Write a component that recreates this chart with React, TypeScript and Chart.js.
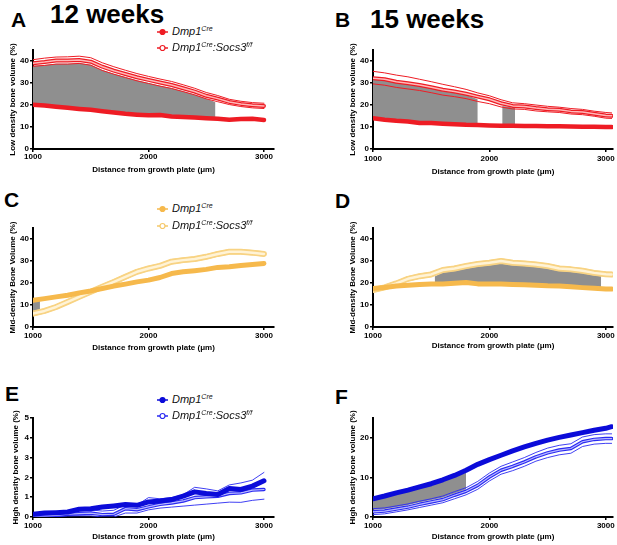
import React, { useEffect, useRef } from "react";
import { Chart, registerables } from "chart.js";
Chart.register(...registerables);

const FONT = 'Arial, "Liberation Sans", Helvetica, sans-serif';
const GRAY = "#8f8f8f";

// ---------- x positions ----------
const xs12 = [1000, 1100, 1200, 1300, 1400, 1500, 1600, 1700, 1800, 1900, 2000, 2100, 2200, 2300, 2400, 2500, 2600, 2700, 2800, 2900, 3000];
const xs15 = [1000, 1100, 1200, 1300, 1400, 1500, 1600, 1700, 1800, 1900, 2000, 2100, 2200, 2300, 2400, 2500, 2600, 2700, 2800, 2900, 3000, 3050];
const xTicks = [1000, 2000, 3000];
const yTicksLowMid = [0, 10, 20, 30, 40];
const yTicksHigh12 = [0, 1, 2, 3, 4, 5];
const yTicksHigh15 = [0, 10, 20];

// ---------- A: low density, 12 weeks ----------
const lowCtrl12 = [20.1, 19.8, 19.2, 18.7, 18.2, 17.8, 17.2, 16.6, 16.0, 15.6, 15.3, 15.5, 14.8, 14.5, 14.3, 14.0, 13.8, 13.3, 13.6, 13.7, 13.2];
const lowKoMean12 = [39.0, 39.5, 40.2, 40.2, 40.5, 39.7, 37.4, 35.6, 34.1, 32.6, 31.4, 30.2, 29.1, 27.6, 26.1, 24.2, 22.9, 21.4, 20.5, 19.9, 19.6];
const lowKoUpper12 = [40.6, 41.3, 41.8, 41.9, 42.2, 41.5, 39.2, 37.4, 35.8, 34.3, 33.0, 31.8, 30.7, 29.2, 27.6, 25.7, 24.3, 22.6, 21.7, 21.1, 20.8];
const lowKoLower12 = [37.6, 38.0, 38.6, 38.6, 38.9, 38.1, 35.7, 34.0, 32.5, 31.0, 29.8, 28.6, 27.5, 26.1, 24.6, 22.8, 21.5, 20.2, 19.3, 18.7, 18.4];
const lowShadeX12 = [1000, 1100, 1200, 1300, 1400, 1500, 1600, 1700, 1800, 1900, 2000, 2100, 2200, 2300, 2400, 2500, 2580];
const lowShadeTop12 = [37.8, 38.2, 38.8, 38.8, 39.1, 38.3, 35.9, 34.2, 32.7, 31.2, 30.0, 28.8, 27.7, 26.3, 24.8, 23.0, 21.2];
const lowShadeBottom12 = [20.1, 19.8, 19.2, 18.7, 18.2, 17.8, 17.2, 16.6, 16.0, 15.6, 15.3, 15.5, 14.8, 14.5, 14.3, 14.0, 13.8];

// ---------- B: low density, 15 weeks ----------
const lowCtrl15 = [14.0, 13.3, 12.8, 12.5, 11.8, 11.8, 11.5, 11.3, 11.0, 10.9, 10.7, 10.6, 10.6, 10.5, 10.4, 10.3, 10.3, 10.2, 10.1, 10.1, 10.0, 10.0];
const lowKoMean15 = [32.2, 31.7, 30.6, 29.9, 29.1, 28.1, 26.9, 26.1, 25.1, 23.8, 22.6, 20.8, 19.6, 19.3, 18.6, 18.1, 17.8, 17.1, 16.8, 16.0, 15.2, 15.1];
const lowKoUpper15 = [35.3, 34.6, 33.6, 32.8, 31.7, 30.6, 29.4, 28.3, 27.1, 25.5, 24.2, 22.4, 21.0, 20.6, 20.0, 19.4, 19.0, 18.4, 18.0, 17.2, 16.6, 16.4];
const lowKoLower15 = [29.6, 29.0, 28.0, 27.3, 26.6, 25.6, 24.5, 23.8, 22.9, 21.6, 20.6, 19.1, 18.2, 18.0, 17.3, 16.9, 16.6, 15.9, 15.6, 14.9, 14.0, 13.9];
const lowShadeXa15 = [1000, 1100, 1200, 1300, 1400, 1500, 1600, 1700, 1800, 1900];
const lowShadeTopa15 = [31.6, 31.1, 30.0, 29.3, 28.5, 27.5, 26.3, 25.5, 24.5, 22.6];
const lowShadeBottoma15 = [14.0, 13.3, 12.8, 12.5, 11.8, 11.8, 11.5, 11.3, 11.0, 10.9];
const lowShadeXb15 = [2110, 2220];
const lowShadeTopb15 = [19.6, 18.8];
const lowShadeBottomb15 = [10.6, 10.6];

// ---------- C: mid density, 12 weeks ----------
const midCtrl12 = [12.2, 12.9, 13.7, 14.4, 15.5, 16.4, 17.5, 18.6, 19.5, 20.5, 21.3, 22.5, 24.3, 25.1, 25.6, 26.2, 27.1, 27.4, 28.0, 28.4, 28.9];
const midKoMean12 = [6.1, 7.3, 9.1, 11.4, 13.7, 16.0, 18.3, 20.5, 22.8, 25.1, 26.6, 27.8, 29.7, 30.4, 30.9, 31.9, 33.2, 34.2, 34.2, 33.8, 33.2];
const midKoUpper12 = [7.1, 8.3, 10.1, 12.4, 14.7, 17.0, 19.3, 21.6, 23.9, 26.1, 27.6, 28.8, 30.7, 31.4, 31.9, 32.9, 34.2, 35.2, 35.2, 34.8, 34.2];
const midKoLower12 = [5.1, 6.3, 8.1, 10.4, 12.7, 15.0, 17.3, 19.4, 21.7, 24.1, 25.6, 26.8, 28.7, 29.4, 29.9, 30.9, 32.2, 33.2, 33.2, 32.8, 32.2];
const midShadeX12 = [1000, 1060];
const midShadeTop12 = [11.6, 12.2];
const midShadeBottom12 = [6.8, 7.4];

// ---------- D: mid density, 15 weeks ----------
const midCtrl15 = [17.5, 18.0, 18.6, 19.0, 19.3, 19.5, 19.6, 19.9, 20.2, 19.6, 19.5, 19.5, 19.3, 19.2, 19.0, 18.7, 18.6, 18.3, 17.9, 17.6, 17.3, 17.3];
const midKoMean15 = [16.8, 18.0, 19.8, 21.9, 23.1, 23.9, 25.9, 26.6, 27.7, 28.6, 29.2, 30.0, 29.2, 28.9, 28.4, 27.7, 26.6, 26.2, 25.6, 24.6, 24.0, 23.9];
const midKoUpper15 = [17.8, 19.0, 20.8, 22.9, 24.1, 24.9, 26.9, 27.6, 28.7, 29.6, 30.2, 31.0, 30.2, 29.9, 29.4, 28.7, 27.6, 27.2, 26.6, 25.6, 25.0, 24.9];
const midKoLower15 = [15.8, 17.0, 18.8, 20.9, 22.1, 22.9, 24.9, 25.6, 26.7, 27.6, 28.2, 29.0, 28.2, 27.9, 27.4, 26.7, 25.6, 25.2, 24.6, 23.6, 23.0, 22.9];
const midShadeX15 = [1530, 1600, 1700, 1800, 1900, 2000, 2100, 2200, 2300, 2400, 2500, 2600, 2700, 2800, 2900, 2960];
const midShadeTop15 = [23.0, 24.9, 25.6, 26.7, 27.6, 28.2, 29.0, 28.2, 27.9, 27.4, 26.7, 25.6, 25.2, 24.6, 23.6, 23.2];
const midShadeBottom15 = [19.5, 19.6, 19.9, 20.2, 19.6, 19.5, 19.5, 19.3, 19.2, 19.0, 18.7, 18.6, 18.3, 17.9, 17.6, 17.4];

// ---------- E: high density, 12 weeks ----------
const highCtrl12 = [0.14, 0.2, 0.22, 0.25, 0.39, 0.42, 0.5, 0.56, 0.63, 0.59, 0.76, 0.81, 0.88, 1.05, 1.27, 1.19, 1.14, 1.44, 1.39, 1.56, 1.83];
const highKoMean12 = [0.05, 0.05, 0.08, 0.14, 0.17, 0.2, 0.12, 0.14, 0.42, 0.37, 0.51, 0.64, 0.71, 0.81, 0.98, 1.02, 1.05, 1.19, 1.22, 1.36, 1.39];
const highKoUpper12 = [0.12, 0.12, 0.16, 0.24, 0.3, 0.36, 0.3, 0.34, 0.62, 0.6, 0.98, 0.92, 0.98, 1.12, 1.5, 1.42, 1.32, 1.62, 1.72, 1.86, 2.25];
const highKoLower12 = [0.0, 0.0, 0.02, 0.05, 0.06, 0.06, 0.0, 0.0, 0.2, 0.2, 0.36, 0.45, 0.5, 0.55, 0.6, 0.65, 0.7, 0.75, 0.74, 0.84, 0.9];

// ---------- F: high density, 15 weeks ----------
const highCtrl15 = [4.6, 5.3, 6.1, 6.8, 7.6, 8.4, 9.4, 10.5, 11.8, 13.3, 14.5, 15.6, 16.7, 17.7, 18.6, 19.4, 20.1, 20.7, 21.3, 21.9, 22.4, 22.8];
const highKoMean15 = [1.3, 1.5, 2.0, 2.5, 3.2, 3.8, 4.4, 5.5, 6.5, 8.0, 10.1, 11.8, 12.8, 13.9, 15.2, 16.2, 16.9, 17.3, 19.0, 19.6, 19.8, 19.8];
const highKoUpper15 = [2.1, 2.3, 2.8, 3.3, 4.0, 4.6, 5.3, 6.4, 7.4, 9.0, 11.1, 12.8, 13.9, 15.0, 16.3, 17.4, 18.1, 18.5, 20.2, 20.8, 21.0, 21.0];
const highKoLower15 = [0.6, 0.8, 1.3, 1.8, 2.4, 3.0, 3.6, 4.6, 5.6, 7.0, 9.1, 10.8, 11.7, 12.8, 14.1, 15.0, 15.7, 16.1, 17.8, 18.4, 18.6, 18.6];
const highShadeX15 = [1000, 1100, 1200, 1300, 1400, 1500, 1600, 1700, 1800];
const highShadeTop15 = [4.6, 5.3, 6.1, 6.8, 7.6, 8.4, 9.4, 10.5, 11.2];
const highShadeBottom15 = [1.8, 2.0, 2.5, 3.0, 3.7, 4.3, 4.9, 6.0, 7.0];

const X_TITLE = "Distance from growth plate (\u03bcm)";

type Shade = { x: number[]; top: number[]; bottom: number[] };
type Style = { ctrl: string; ko: string; inner: string; ctrlW: number; koW: number; innerW: number; thinW: number };

const RED: Style = { ctrl: "#ee1c24", ko: "#ee1c24", inner: "#ffb8b8", ctrlW: 4.5, koW: 4, innerW: 1.5, thinW: 1 };
const ORANGE: Style = { ctrl: "#f6b94c", ko: "#f8d383", inner: "#fff3d6", ctrlW: 5, koW: 6, innerW: 2.5, thinW: 1 };
const BLUE: Style = { ctrl: "#0b0bd9", ko: "#2a2af2", inner: "#b9b9ff", ctrlW: 5, koW: 3.5, innerW: 1.2, thinW: 0.9 };

type PanelCfg = {
  L: number; T: number; R: number; B: number;
  yTitleX: number; xTitleY: number; xTickPad: number;
  xMax: number; yMax: number; yTicks: number[]; yTitle: string;
  xs: number[]; ctrl: number[]; mean: number[]; upper: number[]; lower: number[];
  shades: Shade[]; st: Style;
};

const pts = (xs: number[], ys: number[]) => xs.map((x, i) => ({ x, y: ys[i] }));

function Panel({ cfg }: { cfg: PanelCfg }) {
  const ref = useRef<HTMLCanvasElement>(null);
  const padTop = 8;
  const padRight = 4;
  const left = Math.round(cfg.yTitleX - 4.8);
  const top = cfg.T - padTop;
  const right = cfg.R + padRight;
  const bottom = Math.round(cfg.xTitleY + 4.8);
  const width = right - left;
  const height = bottom - top;
  const yAxisW = cfg.L - left;
  const xAxisH = bottom - cfg.B;

  useEffect(() => {
    const st = cfg.st;
    const ds: any[] = [];
    const line = (data: any[], color: string, w: number, order: number) => ({
      data, borderColor: color, borderWidth: w, pointRadius: 0, fill: false, tension: 0, order,
      borderJoinStyle: "round", borderCapStyle: "round",
    });
    cfg.shades.forEach((sh) => {
      ds.push({ data: pts(sh.x, sh.top), borderColor: "rgba(0,0,0,0)", borderWidth: 0, pointRadius: 0, fill: "+1", backgroundColor: GRAY, order: 20 });
      ds.push({ data: pts(sh.x, sh.bottom), borderColor: "rgba(0,0,0,0)", borderWidth: 0, pointRadius: 0, fill: false, order: 21 });
    });
    ds.push(line(pts(cfg.xs, cfg.upper), st.ko, st.thinW, 6));
    ds.push(line(pts(cfg.xs, cfg.lower), st.ko, st.thinW, 5));
    ds.push(line(pts(cfg.xs, cfg.mean), st.ko, st.koW, 4));
    ds.push(line(pts(cfg.xs, cfg.mean), st.inner, st.innerW, 3));
    ds.push(line(pts(cfg.xs, cfg.ctrl), st.ctrl, st.ctrlW, 1));

    const tickFont = { family: FONT, size: 8, weight: "bold" as const };
    const titleFont = { family: FONT, size: 8, weight: "bold" as const, lineHeight: 1.2 };
    const grid = { display: true, drawOnChartArea: false, drawTicks: true, tickLength: 3, color: "#000", lineWidth: 1.5 };
    const border = { display: true, color: "#000", width: 2 };

    const chart = new Chart(ref.current as HTMLCanvasElement, {
      type: "line",
      data: { datasets: ds },
      options: {
        animation: false,
        responsive: false,
        maintainAspectRatio: false,
        layout: { padding: { top: padTop, right: padRight, left: 0, bottom: 0 } },
        plugins: { legend: { display: false }, tooltip: { enabled: false } },
        scales: {
          x: {
            type: "linear", min: 1000, max: cfg.xMax,
            afterBuildTicks: (s: any) => { s.ticks = xTicks.map((v) => ({ value: v })); },
            afterFit: (s: any) => { s.height = xAxisH; },
            ticks: { callback: (v: any) => String(v), color: "#000", font: tickFont, padding: cfg.xTickPad, maxRotation: 0, autoSkip: false },
            grid, border,
            title: { display: true, text: X_TITLE, color: "#000", font: titleFont, padding: 0 },
          },
          y: {
            type: "linear", min: 0, max: cfg.yMax,
            afterBuildTicks: (s: any) => { s.ticks = cfg.yTicks.map((v) => ({ value: v })); },
            afterFit: (s: any) => { s.width = yAxisW; },
            ticks: { callback: (v: any) => String(v), color: "#000", font: tickFont, padding: 1, autoSkip: false },
            grid, border,
            title: { display: true, text: cfg.yTitle, color: "#000", font: titleFont, padding: 0 },
          },
        },
      } as any,
    });
    return () => chart.destroy();
  }, []);

  return (
    <canvas ref={ref} width={width} height={height}
      style={{ position: "absolute", left, top, width, height }} />
  );
}

function Sup({ children }: { children: any }) {
  return <span style={{ fontSize: 7, position: "relative", top: -4 }}>{children}</span>;
}

function LegendRow({ y, color, open }: { y: number; color: string; open: boolean }) {
  return (
    <div style={{ position: "absolute", left: 157, top: y - 8, height: 16, display: "flex", alignItems: "center", whiteSpace: "nowrap" }}>
      <svg width="11" height="8" style={{ marginRight: 4 }}>
        <line x1="0" y1="4" x2="11" y2="4" stroke={color} strokeWidth="1.5" />
        <circle cx="5.5" cy="4" r="2.5" fill={open ? "#fff" : color} stroke={color} strokeWidth="1.2" />
      </svg>
      <span style={{ fontFamily: FONT, fontStyle: "italic", fontSize: 11, color: "#111", lineHeight: "16px" }}>
        Dmp1<Sup>Cre</Sup>
        {open ? <>:Socs3<Sup>f/f</Sup></> : null}
      </span>
    </div>
  );
}

function Label({ text, left, top, size }: { text: string; left: number; top: number; size: number }) {
  return (
    <div style={{ position: "absolute", left, top, fontFamily: FONT, fontWeight: "bold", fontSize: size, lineHeight: 1, color: "#000", whiteSpace: "nowrap" }}>
      {text}
    </div>
  );
}

const panels: PanelCfg[] = [
  { L: 33, T: 50, R: 274, B: 149, yTitleX: 13, xTitleY: 170, xTickPad: 0, xMax: 3087, yMax: 45, yTicks: yTicksLowMid, yTitle: "Low density bone volume (%)",
    xs: xs12, ctrl: lowCtrl12, mean: lowKoMean12, upper: lowKoUpper12, lower: lowKoLower12,
    shades: [{ x: lowShadeX12, top: lowShadeTop12, bottom: lowShadeBottom12 }], st: RED },
  { L: 373, T: 50, R: 613, B: 149, yTitleX: 353, xTitleY: 172, xTickPad: 2, xMax: 3062, yMax: 45, yTicks: yTicksLowMid, yTitle: "Low density bone volume (%)",
    xs: xs15, ctrl: lowCtrl15, mean: lowKoMean15, upper: lowKoUpper15, lower: lowKoLower15,
    shades: [{ x: lowShadeXa15, top: lowShadeTopa15, bottom: lowShadeBottoma15 }, { x: lowShadeXb15, top: lowShadeTopb15, bottom: lowShadeBottomb15 }], st: RED },
  { L: 33, T: 228, R: 274, B: 327, yTitleX: 13, xTitleY: 348, xTickPad: 1, xMax: 3087, yMax: 45, yTicks: yTicksLowMid, yTitle: "Mid-density Bone Volume (%)",
    xs: xs12, ctrl: midCtrl12, mean: midKoMean12, upper: midKoUpper12, lower: midKoLower12,
    shades: [{ x: midShadeX12, top: midShadeTop12, bottom: midShadeBottom12 }], st: ORANGE },
  { L: 373, T: 228, R: 613, B: 327, yTitleX: 353, xTitleY: 346, xTickPad: 1, xMax: 3062, yMax: 45, yTicks: yTicksLowMid, yTitle: "Mid-density Bone Volume (%)",
    xs: xs15, ctrl: midCtrl15, mean: midKoMean15, upper: midKoUpper15, lower: midKoLower15,
    shades: [{ x: midShadeX15, top: midShadeTop15, bottom: midShadeBottom15 }], st: ORANGE },
  { L: 33, T: 418, R: 274, B: 517, yTitleX: 16, xTitleY: 537, xTickPad: 1, xMax: 3087, yMax: 5, yTicks: yTicksHigh12, yTitle: "High density bone volume (%)",
    xs: xs12, ctrl: highCtrl12, mean: highKoMean12, upper: highKoUpper12, lower: highKoLower12,
    shades: [], st: BLUE },
  { L: 373, T: 418, R: 613, B: 517, yTitleX: 353, xTitleY: 537, xTickPad: 1, xMax: 3062, yMax: 25, yTicks: yTicksHigh15, yTitle: "High density bone volume (%)",
    xs: xs15, ctrl: highCtrl15, mean: highKoMean15, upper: highKoUpper15, lower: highKoLower15,
    shades: [{ x: highShadeX15, top: highShadeTop15, bottom: highShadeBottom15 }], st: BLUE },
];

export default function App() {
  return (
    <div style={{ position: "fixed", left: 0, top: 0, width: 617, height: 545, background: "#fff", overflow: "hidden" }}>
      {panels.map((p, i) => <Panel key={i} cfg={p} />)}
      <Label text="A" left={11} top={9} size={21} />
      <Label text="12 weeks" left={50} top={1} size={26} />
      <Label text="B" left={335} top={9} size={21} />
      <Label text="15 weeks" left={370} top={6} size={26} />
      <Label text="C" left={4} top={189} size={21} />
      <Label text="D" left={335} top={190} size={21} />
      <Label text="E" left={5} top={383} size={21} />
      <Label text="F" left={335} top={386} size={21} />
      <LegendRow y={32} color={RED.ctrl} open={false} />
      <LegendRow y={48} color={RED.ko} open={true} />
      <LegendRow y={209} color={ORANGE.ctrl} open={false} />
      <LegendRow y={226} color="#f5c86a" open={true} />
      <LegendRow y={400} color={BLUE.ctrl} open={false} />
      <LegendRow y={416} color={BLUE.ko} open={true} />
    </div>
  );
}
